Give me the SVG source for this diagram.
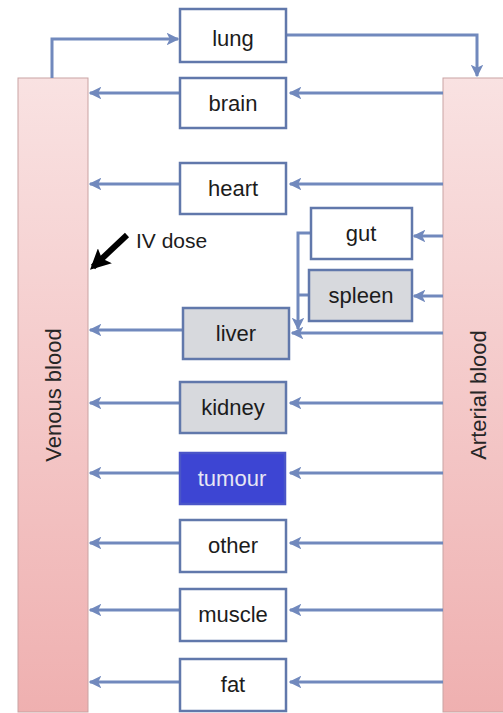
<svg xmlns="http://www.w3.org/2000/svg" width="503" height="713" viewBox="0 0 503 713">
<defs>
<linearGradient id="blood" x1="0" y1="0" x2="0" y2="1">
<stop offset="0" stop-color="#f9e2e2"/>
<stop offset="1" stop-color="#efb0b0"/>
</linearGradient>
<marker id="ah" viewBox="0 0 10 10" refX="9" refY="5" markerWidth="4.2" markerHeight="4.2" orient="auto" markerUnits="strokeWidth">
<path d="M0,0 L10,5 L0,10 L2.5,5 Z" fill="#7189bd"/>
</marker>
<marker id="ahk" viewBox="0 0 10 10" refX="8" refY="5" markerWidth="3.4" markerHeight="3.4" orient="auto" markerUnits="strokeWidth">
<path d="M0,0 L10,5 L0,10 L2,5 Z" fill="#000"/>
</marker>
</defs>
<style>
.bar{fill:url(#blood);stroke:#c9a3a3;stroke-width:1}
.box{fill:#fff;stroke:#6178ab;stroke-width:2.5}
.grey{fill:#d7d9dd}
.blue{fill:#3d45d3;stroke:#4a55c8}
.lbl{font-family:"Liberation Sans",Arial,sans-serif;font-size:22px;fill:#1c1c1c;text-anchor:middle}
.wht{fill:#e6e6f4}
.side{font-family:"Liberation Sans",Arial,sans-serif;font-size:22px;fill:#262626;text-anchor:middle}
.c{fill:none;stroke:#7189bd;stroke-width:3;marker-end:url(#ah)}
.cn{fill:none;stroke:#7189bd;stroke-width:3}
</style>
<rect width="503" height="713" fill="#fff"/>
<g id="venous">
<rect class="bar" x="18" y="78" width="70" height="634"/>
<text class="side" transform="translate(61,395) rotate(-90)">Venous blood</text>
</g>
<g id="arterial">
<rect class="bar" x="443" y="78" width="70" height="634"/>
<text class="side" transform="translate(486,395) rotate(-90)">Arterial blood</text>
</g>
<g id="connectors">
<path class="c" d="M52,78 V39 H178"/>
<path class="c" d="M287,35 H477 V76"/>
<path class="c" d="M443,93 H290"/>
<path class="c" d="M180,93 H90"/>
<path class="c" d="M443,184 H290"/>
<path class="c" d="M180,184 H90"/>
<path class="c" d="M443,236 H414"/>
<path class="c" d="M443,296 H414"/>
<path class="c" d="M311,233 H298 V329"/>
<path class="cn" d="M309,295 H298"/>
<path class="c" d="M443,333 H292"/>
<path class="c" d="M183,330 H90"/>
<path class="c" d="M443,403 H290"/>
<path class="c" d="M180,403 H90"/>
<path class="c" d="M443,473 H290"/>
<path class="c" d="M180,473 H90"/>
<path class="c" d="M443,543 H290"/>
<path class="c" d="M180,543 H90"/>
<path class="c" d="M443,610 H290"/>
<path class="c" d="M180,610 H90"/>
<path class="c" d="M443,682 H290"/>
<path class="c" d="M180,682 H90"/>
</g>
<g id="lung"><rect class="box" x="180" y="9" width="106" height="53"/><text class="lbl" x="233" y="46">lung</text></g>
<g id="brain"><rect class="box" x="180" y="78" width="106" height="50"/><text class="lbl" x="233" y="111">brain</text></g>
<g id="heart"><rect class="box" x="180" y="163" width="106" height="51"/><text class="lbl" x="233" y="196">heart</text></g>
<g id="gut"><rect class="box" x="311" y="208" width="101" height="51"/><text class="lbl" x="361" y="241">gut</text></g>
<g id="spleen"><rect class="box grey" x="309" y="270" width="103" height="51"/><text class="lbl" x="361" y="303">spleen</text></g>
<g id="liver"><rect class="box grey" x="183" y="308" width="106" height="51"/><text class="lbl" x="236" y="341">liver</text></g>
<g id="kidney"><rect class="box grey" x="180" y="382" width="106" height="51"/><text class="lbl" x="233" y="415">kidney</text></g>
<g id="tumour"><rect class="box blue" x="180" y="453" width="105" height="51"/><text class="lbl wht" x="232" y="486">tumour</text></g>
<g id="other"><rect class="box" x="180" y="520" width="106" height="52"/><text class="lbl" x="233" y="553">other</text></g>
<g id="muscle"><rect class="box" x="180" y="589" width="106" height="52"/><text class="lbl" x="233" y="622">muscle</text></g>
<g id="fat"><rect class="box" x="180" y="659" width="106" height="52"/><text class="lbl" x="233" y="692">fat</text></g>
<g id="ivdose">
<line x1="127" y1="235" x2="93" y2="267" stroke="#000" stroke-width="6" marker-end="url(#ahk)"/>
<text x="136" y="248" font-family="Liberation Sans, Arial, sans-serif" font-size="21" fill="#1c1c1c">IV dose</text>
</g>
</svg>
